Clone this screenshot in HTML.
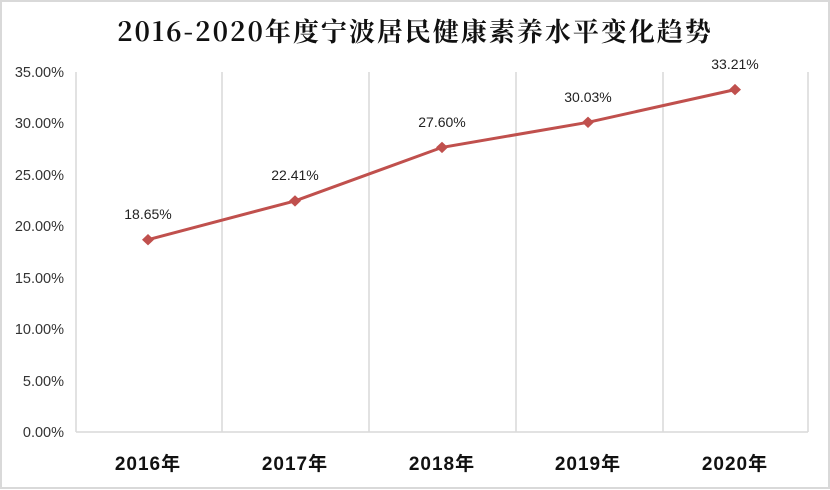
<!DOCTYPE html>
<html><head><meta charset="utf-8"><style>
body{margin:0;background:#fff}
svg{display:block}
</style></head><body>
<svg width="830" height="490" xmlns="http://www.w3.org/2000/svg">
<rect x="1" y="1" width="828" height="487" fill="#fff" stroke="#d9d9d9" stroke-width="2"/>
<text x="415" y="41" text-anchor="middle" font-family="'Noto Serif CJK SC','Liberation Serif',serif" font-size="26" font-weight="bold" fill="#111" letter-spacing="2">2016-2020年度宁波居民健康素养水平变化趋势</text>
<g stroke="#d9d9d9" stroke-width="1.5">
<line x1="76" y1="72" x2="76" y2="432"/>
<line x1="222" y1="72" x2="222" y2="432"/>
<line x1="369" y1="72" x2="369" y2="432"/>
<line x1="516" y1="72" x2="516" y2="432"/>
<line x1="663" y1="72" x2="663" y2="432"/>
<line x1="808" y1="72" x2="808" y2="432"/>
<line x1="76" y1="432" x2="808" y2="432"/>
</g>
<g font-family="'Liberation Sans',sans-serif" font-size="14.5" fill="#333" text-anchor="end">
<text x="64" y="77">35.00%</text>
<text x="64" y="128">30.00%</text>
<text x="64" y="180">25.00%</text>
<text x="64" y="231">20.00%</text>
<text x="64" y="283">15.00%</text>
<text x="64" y="334">10.00%</text>
<text x="64" y="386">5.00%</text>
<text x="64" y="437">0.00%</text>
</g>
<polyline points="148,239.7 295,200.9 442,147.4 588,122.3 735,89.6" fill="none" stroke="#c0504d" stroke-width="3"/>
<g fill="#c0504d">
<path d="M148,234 l6,5.7 l-6,5.7 l-6,-5.7z"/>
<path d="M295,195.2 l6,5.7 l-6,5.7 l-6,-5.7z"/>
<path d="M442,141.7 l6,5.7 l-6,5.7 l-6,-5.7z"/>
<path d="M588,116.6 l6,5.7 l-6,5.7 l-6,-5.7z"/>
<path d="M735,83.9 l6,5.7 l-6,5.7 l-6,-5.7z"/>
</g>
<g font-family="'Liberation Sans',sans-serif" font-size="14" fill="#222" text-anchor="middle">
<text x="148" y="219">18.65%</text>
<text x="295" y="180">22.41%</text>
<text x="442" y="127">27.60%</text>
<text x="588" y="102">30.03%</text>
<text x="735" y="69">33.21%</text>
</g>
<g font-family="'Liberation Sans','Noto Sans CJK SC',sans-serif" font-size="19" font-weight="bold" fill="#111" text-anchor="middle" letter-spacing="1">
<text x="148" y="470">2016年</text>
<text x="295" y="470">2017年</text>
<text x="442" y="470">2018年</text>
<text x="588" y="470">2019年</text>
<text x="735" y="470">2020年</text>
</g>
</svg>
</body></html>
